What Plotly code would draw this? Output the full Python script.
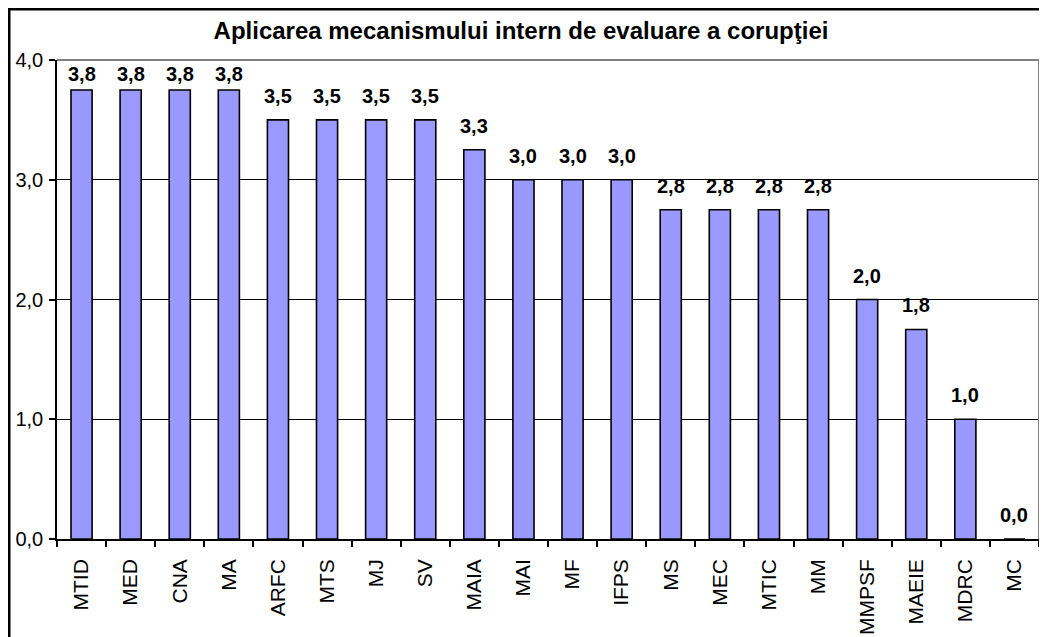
import plotly.graph_objects as go
import decimal

categories = ["MTID", "MED", "CNA", "MA", "ARFC", "MTS", "MJ", "SV", "MAIA", "MAI",
              "MF", "IFPS", "MS", "MEC", "MTIC", "MM", "MMPSF", "MAEIE", "MDRC", "MC"]
values = [3.75, 3.75, 3.75, 3.75, 3.5, 3.5, 3.5, 3.5, 3.25, 3.0,
          3.0, 3.0, 2.75, 2.75, 2.75, 2.75, 2.0, 1.75, 1.0, 0.0]
y_ticks = [0, 1, 2, 3, 4]
title_text = "Aplicarea mecanismului intern de evaluare a corupţiei"

FONT = "Liberation Sans, Arial, sans-serif"
# the page body has an 8px default margin; size the figure so it fits the window
W, H = 1039, 629
ML, MR, MT, MB = 49, 8, 52, 98
plot_w = W - ML - MR
plot_h = H - MT - MB
y_max = 4.0
px_per_unit = plot_h / y_max


def fmt(v):
    d = decimal.Decimal(str(v)).quantize(decimal.Decimal("0.1"), rounding=decimal.ROUND_HALF_UP)
    return str(d).replace(".", ",")


fig = go.Figure()
fig.add_trace(go.Bar(
    x=categories, y=values,
    width=0.43,
    marker=dict(color="#9999FF", line=dict(color="black", width=1.6)),
    hoverinfo="x+y",
))

# data labels (Excel-like: above bar, pushed down to stay inside the plot area)
annotations = []
base_shift = 11
needed = 38
for c, v in zip(categories, values):
    room = (y_max - v) * px_per_unit
    shift = base_shift - max(0, needed - room)
    annotations.append(dict(
        x=c, y=v, xref="x", yref="y",
        text="<b>" + fmt(v) + "</b>",
        showarrow=False, yanchor="bottom", yshift=shift,
        font=dict(family=FONT, size=20, color="black"),
    ))

fig.update_layout(
    width=W, height=H,
    margin=dict(l=ML, r=MR, t=MT, b=MB, autoexpand=False),
    paper_bgcolor="white", plot_bgcolor="white",
    separators=", ",
    showlegend=False,
    font=dict(family=FONT, color="black"),
    title=dict(text="<b>" + title_text + "</b>", x=513 / W, xanchor="center",
               y=1 - 23 / H, yanchor="middle",
               font=dict(family=FONT, size=24, color="black")),
    xaxis=dict(
        type="category", tickson="boundaries", ticks="outside", ticklen=6,
        tickcolor="black", tickwidth=1.5, showline=True, linecolor="black", linewidth=1.5,
        showgrid=False, tickangle=-90, tickfont=dict(family=FONT, size=21, color="black"),
        fixedrange=True, automargin=False, ticklabelstandoff=10,
    ),
    yaxis=dict(
        range=[0, y_max], tickvals=y_ticks, tickformat=".1f", ticks="outside", ticklen=6,
        tickcolor="black", tickwidth=1.5, showline=True, linecolor="black", linewidth=1.5,
        showgrid=True, gridcolor="black", gridwidth=1.2, zeroline=False,
        tickfont=dict(family=FONT, size=20, color="black"), ticklabelstandoff=2,
        automargin=False,
    ),
    annotations=annotations,
    shapes=[
        # grey plot-area border (top and right)
        dict(type="line", xref="paper", yref="paper", x0=0, x1=1, y0=1, y1=1,
             line=dict(color="#808080", width=2), layer="above"),
        dict(type="line", xref="paper", yref="paper", x0=1, x1=1, y0=0, y1=1,
             line=dict(color="#808080", width=2), layer="above"),
        # outer chart border
        dict(type="rect", xref="paper", yref="paper",
             x0=(1 - ML) / plot_w, x1=1.2,
             y0=-0.5, y1=(H - MB - 1) / plot_h,
             line=dict(color="black", width=3), layer="above"),
    ],
)

fig.write_html("out.html")
